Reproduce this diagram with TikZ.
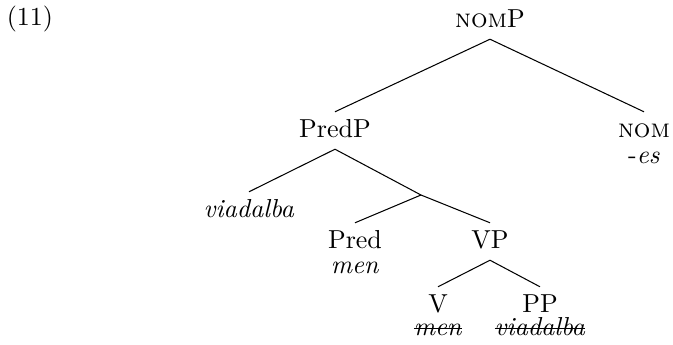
\documentclass[tikz,border=0pt]{standalone}
\newcommand\mystrike[1]{\setbox0\hbox{#1}\rlap{\raisebox{0.5ex}{\rule{\wd0}{0.4pt}}}\box0}
\begin{document}
\begin{tikzpicture}[x=0.3846pt,y=-0.3846pt,
  lab/.style={anchor=base,inner xsep=0pt,inner ysep=2.5pt,text height=7pt,text depth=2pt},
  edge/.style={line width=0.4pt}]
\useasboundingbox (0,0) rectangle (673,344);
\node[lab] (ex) at (30,25) {(11)};
\node[lab] (nomP) at (490,27) {\textsc{nom}P};
\node[lab] (PredP) at (335,137) {PredP};
\node[lab] (NOM) at (644,137) {\textsc{nom}};
\node[lab] (es) at (644,163) {-\textit{es}};
\node[lab] (via1) at (249,217) {\textit{viadalba}};
\coordinate (bar) at (421,195);
\node[lab] (Pred) at (355,248) {Pred};
\node[lab] (men1) at (355,273) {\textit{men}};
\node[lab] (VP) at (490,248) {VP};
\node[lab] (V) at (438,312) {V};
\node[lab] (PP) at (540,312) {PP};
\node[lab] (men2) at (438,335) {\mystrike{\textit{men}}};
\node[lab] (via2) at (540,335) {\mystrike{\textit{viadalba}}};
\draw[edge] (PredP.north) -- (nomP.south) -- (NOM.north);
\draw[edge] (via1.north) -- (PredP.south) -- (bar) -- (VP.north);
\draw[edge] (Pred.north) -- (bar);
\draw[edge] (V.north) -- (VP.south) -- (PP.north);
\end{tikzpicture}
\end{document}
